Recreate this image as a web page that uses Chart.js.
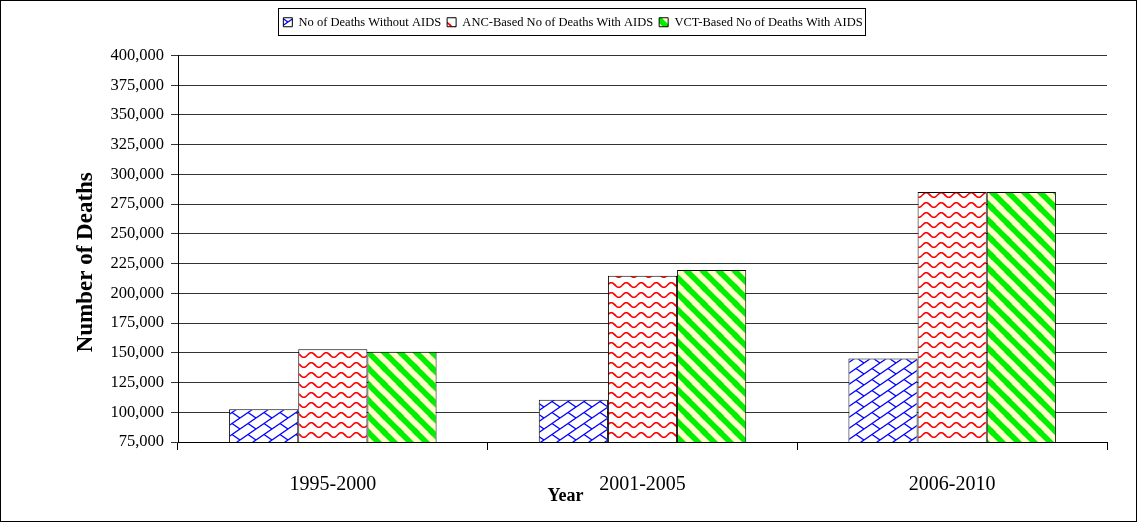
<!DOCTYPE html>
<html>
<head>
<meta charset="utf-8">
<script src="https://cdn.jsdelivr.net/npm/chart.js@4/dist/chart.umd.min.js"></script>
<style>
  html, body { margin: 0; padding: 0; background: #fff; }
  #wrap { width: 1138px; height: 523px; }
</style>
</head>
<body>
<div id="wrap"><canvas id="deaths" width="1138" height="523"></canvas></div>
<script>
const years = ['1995-2000', '2001-2005', '2006-2010'];
const withoutAids = [102500, 110600, 145200];
const ancWithAids = [153000, 214800, 285200];
const vctWithAids = [150800, 219600, 285300];
const seriesNames = ['No of Deaths Without AIDS', 'ANC-Based No of Deaths With AIDS', 'VCT-Based No of Deaths With AIDS'];

const serif = "'Liberation Serif', 'DejaVu Serif', serif";

// hatch fills like the old office patterns
function makePattern(w, h, bg, draw) {
  const c = document.createElement('canvas');
  c.width = w; c.height = h;
  const g = c.getContext('2d');
  g.fillStyle = bg;
  g.fillRect(0, 0, w, h);
  for (const dx of [-w, 0, w]) {
    for (const dy of [-h, 0, h]) {
      g.save();
      g.translate(dx, dy);
      draw(g, w, h);
      g.restore();
    }
  }
  return g.createPattern(c, 'repeat');
}

const brick = makePattern(16, 11, '#ffffff', (g, w, h) => {
  g.strokeStyle = '#0000ff';
  g.lineWidth = 1.3;
  g.beginPath();
  g.moveTo(0, h); g.lineTo(w, 0);
  g.moveTo(w / 2, h / 2); g.lineTo(w, h);
  g.stroke();
});

const wave = makePattern(15, 10, '#ffffff', (g, w, h) => {
  g.strokeStyle = '#ff0000';
  g.lineWidth = 1.6;
  g.beginPath();
  for (let x = -1; x <= w + 1; x += 0.5) {
    const y = h / 2 + 2.3 * Math.sin(2 * Math.PI * x / w);
    if (x === -1) g.moveTo(x, y); else g.lineTo(x, y);
  }
  g.stroke();
});

const stripes = makePattern(16, 16, '#ffffcc', (g, w, h) => {
  g.strokeStyle = '#00f000';
  g.lineWidth = 5.5;
  g.beginPath();
  g.moveTo(-2, -2); g.lineTo(w + 2, h + 2);
  g.stroke();
});

const frameAndExtras = {
  id: 'frameAndExtras',
  afterInit(chart) {
    // leave a gap between the legend and the plot
    const lg = chart.legend;
    const fit = lg.fit;
    lg.fit = function () {
      fit.call(this);
      this.height += 17;
    };
  },
  afterDraw(chart) {
    const ctx = chart.ctx;
    const area = chart.chartArea;
    ctx.save();
    // outer frame
    ctx.strokeStyle = '#000';
    ctx.lineWidth = 1;
    ctx.strokeRect(0.5, 0.5, chart.width - 2, chart.height - 2);
    // legend border
    const boxes = chart.legend.legendHitBoxes;
    if (boxes && boxes.length) {
      let l = Infinity, r = -Infinity, t = Infinity, b = -Infinity;
      boxes.forEach(hb => {
        l = Math.min(l, hb.left); r = Math.max(r, hb.left + hb.width);
        t = Math.min(t, hb.top); b = Math.max(b, hb.top + hb.height);
      });
      ctx.strokeRect(Math.round(l - 5) + 0.5, Math.round(t - 8) + 0.5, Math.round(r - l + 8), Math.round(b - t + 14));
    }
    // axis titles
    ctx.fillStyle = '#000';
    ctx.textAlign = 'center';
    ctx.textBaseline = 'middle';
    ctx.font = 'bold 18px ' + serif;
    ctx.fillText('Year', area.left + (area.right - area.left) * 0.417, area.bottom + 54);
    ctx.translate(86, area.top + (area.bottom - area.top) * 0.535);
    ctx.rotate(-Math.PI / 2);
    ctx.font = 'bold 23px ' + serif;
    ctx.fillText('Number of Deaths', 0, 0);
    ctx.restore();
  }
};

new Chart(document.getElementById('deaths'), {
  type: 'bar',
  data: {
    labels: years,
    datasets: [
      { label: seriesNames[0], data: withoutAids, backgroundColor: brick },
      { label: seriesNames[1], data: ancWithAids, backgroundColor: wave },
      { label: seriesNames[2], data: vctWithAids, backgroundColor: stripes }
    ].map(d => Object.assign(d, {
      borderColor: '#000',
      borderWidth: 1,
      borderSkipped: false,
      categoryPercentage: 0.67,
      barPercentage: 1.0
    }))
  },
  options: {
    responsive: false,
    animation: false,
    layout: { padding: { left: 39, right: 31, top: 10, bottom: 0 } },
    plugins: {
      tooltip: { enabled: false },
      legend: {
        position: 'top',
        labels: {
          color: '#000',
          font: { family: serif, size: 12.5 },
          boxWidth: 9,
          boxHeight: 9,
          padding: 6
        }
      }
    },
    scales: {
      x: {
        grid: { drawOnChartArea: false, offset: true, tickLength: 8, color: '#000' },
        border: { color: '#000' },
        ticks: { color: '#000', font: { family: serif, size: 20 }, padding: 23 },
        afterFit: s => { s.height = 81; }
      },
      y: {
        min: 75000,
        max: 400000,
        ticks: {
          stepSize: 25000,
          color: '#000',
          font: { family: serif, size: 16.5 },
          padding: 7,
          callback: v => v.toLocaleString('en-US')
        },
        grid: { color: '#333', tickLength: 7 },
        border: { color: '#000' },
        afterFit: s => { s.width = 139; }
      }
    }
  },
  plugins: [frameAndExtras]
});
</script>
</body>
</html>
